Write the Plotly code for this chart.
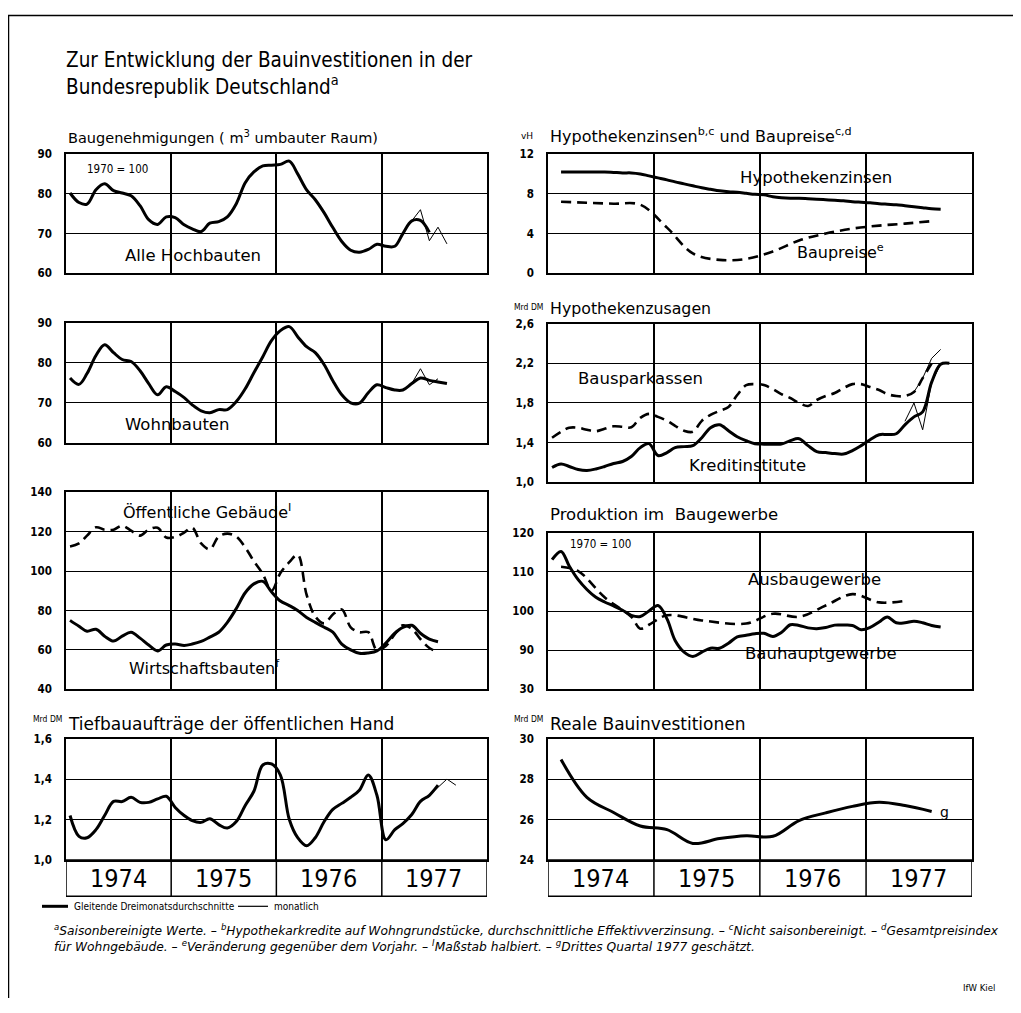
import plotly.graph_objects as go

# page is offset by the browser's 8px body margin; figure drawn at 8..(W-8)
W, H = 1021, 1013
OFF = 8
FW, FH = W - 2 * OFF, H - 2 * OFF
FONT_C = "DejaVu Sans Condensed, Liberation Sans Narrow, DejaVu Sans, sans-serif"
FONT = "DejaVu Sans, Liberation Sans, Arial, sans-serif"

# ---------------- data (month index 0 = Jan 1974) ----------------
# Baugenehmigungen – Alle Hochbauten (1970 = 100), 3-month moving average
hoch_start = 0
hoch_vals = [80.2, 77.8, 77.4, 81.0, 82.5, 80.8, 80.2, 79.5, 77.0, 73.5, 72.3, 74.2,
             74.0, 72.2, 71.2, 70.5, 72.6, 73.0, 74.2, 77.5, 82.8, 85.5, 87.0, 87.2,
             87.4, 88.2, 85.0, 81.0, 78.5, 75.2, 71.5, 68.0, 65.8, 65.3, 66.0, 67.3,
             66.8, 66.8, 70.0, 73.2, 73.3, 70.3]
hoch_m_months = [39, 40, 41, 42, 43]
hoch_m_vals = [73.2, 76.0, 68.2, 71.6, 67.4]

# Wohnbauten
wohn_start = 0
wohn_vals = [76.2, 74.6, 77.3, 81.8, 84.5, 82.5, 80.8, 80.3, 78.0, 74.8, 72.0, 74.0,
             72.8, 71.3, 69.5, 68.0, 67.5, 68.3, 68.3, 70.3, 73.5, 77.5, 81.5, 85.5,
             88.0, 89.0, 86.5, 84.0, 82.5, 79.5, 75.5, 72.0, 70.0, 69.9, 72.5, 74.5,
             73.8, 73.2, 73.2, 74.8, 76.2, 75.6, 75.2, 74.8]
wohn_m_months = [39, 40, 41, 42]
wohn_m_vals = [74.8, 78.5, 74.5, 76.0]

# Öffentliche Gebäude (scale halved) and Wirtschaftsbauten
oeff_start = 0
oeff_vals = [112.5, 114.0, 118.0, 122.2, 121.0, 121.0, 123.0, 120.5, 118.0, 121.0, 122.0, 117.0,
             117.3, 119.5, 122.0, 114.0, 111.0, 117.5, 119.0, 117.5, 112.0, 105.0, 98.5, 90.0,
             99.0, 104.5, 108.3, 88.0, 77.0, 73.5, 78.0, 80.5, 71.5, 69.0, 69.0, 60.0,
             62.0, 68.0, 72.5, 70.8, 65.5, 61.0, 59.0]
wirt_start = 0
wirt_vals = [75.0, 72.0, 69.5, 70.5, 67.0, 64.5, 67.0, 69.0, 66.0, 62.5, 59.5, 62.5,
             63.0, 62.3, 63.0, 64.3, 66.5, 69.0, 74.0, 81.0, 89.0, 93.5, 94.8, 89.5,
             84.8, 82.5, 80.0, 76.5, 74.0, 71.5, 69.0, 63.0, 60.0, 58.3, 58.5, 59.5,
             63.5, 68.5, 71.5, 72.5, 68.5, 65.5, 64.2]

# Tiefbauaufträge der öffentlichen Hand (Mrd DM)
tief_start = 0
tief_vals = [1.22, 1.117, 1.11, 1.15, 1.22, 1.29, 1.289, 1.31, 1.285, 1.285, 1.302, 1.315,
             1.26, 1.22, 1.195, 1.186, 1.204, 1.175, 1.158, 1.19, 1.27, 1.34, 1.47, 1.475,
             1.42, 1.20, 1.11, 1.07, 1.11, 1.19, 1.25, 1.28, 1.31, 1.345, 1.42, 1.32,
             1.10, 1.15, 1.18, 1.225, 1.29, 1.32, 1.37]
tief_m_months = [41, 42, 43, 44]
tief_m_vals = [1.32, 1.36, 1.40, 1.37]

# Hypothekenzinsen (vH)
zins_start = 1
zins_vals = [10.2, 10.2, 10.2, 10.2, 10.2, 10.2, 10.15, 10.1, 10.1, 10.0, 9.8,
             9.6, 9.4, 9.2, 9.0, 8.8, 8.6, 8.45, 8.3, 8.2, 8.15, 8.05, 7.95,
             7.9, 7.7, 7.6, 7.55, 7.55, 7.5, 7.45, 7.4, 7.35, 7.3, 7.2, 7.15,
             7.1, 7.0, 6.95, 6.9, 6.8, 6.7, 6.6, 6.5, 6.45]
# Baupreise (Veränderung gegenüber Vorjahr, vH), quarterly
preis_months = [1, 4, 7, 10, 13, 16, 19, 22, 25, 28, 31, 34, 37, 40, 43]
preis_vals = [7.2, 7.1, 7.0, 6.9, 4.6, 2.0, 1.35, 1.45, 2.2, 3.3, 4.0, 4.5, 4.8, 5.0, 5.25]

# Hypothekenzusagen (Mrd DM)
bspk_start = 0
bspk_vals = [1.45, 1.51, 1.55, 1.55, 1.53, 1.515, 1.54, 1.565, 1.56, 1.555, 1.65, 1.69,
             1.66, 1.62, 1.57, 1.52, 1.51, 1.62, 1.68, 1.72, 1.76, 1.88, 1.98, 1.99,
             1.98, 1.94, 1.89, 1.85, 1.80, 1.77, 1.83, 1.87, 1.90, 1.95, 1.99, 1.99,
             1.96, 1.93, 1.89, 1.87, 1.87, 1.91, 2.05, 2.20]
bspk_m_months = [41, 42, 43, 44]
bspk_m_vals = [1.91, 2.05, 2.25, 2.34]
kred_start = 0
kred_vals = [1.15, 1.185, 1.16, 1.13, 1.12, 1.135, 1.16, 1.19, 1.21, 1.26, 1.35, 1.39,
             1.27, 1.30, 1.35, 1.36, 1.37, 1.45, 1.55, 1.58, 1.52, 1.46, 1.42, 1.39,
             1.385, 1.385, 1.385, 1.42, 1.44, 1.37, 1.31, 1.30, 1.29, 1.285, 1.32, 1.37,
             1.43, 1.48, 1.483, 1.49, 1.58, 1.66, 1.71, 2.01, 2.19, 2.20]
kred_m_months = [40, 41, 42, 43, 44]
kred_m_vals = [1.615, 1.80, 1.53, 2.01, 2.19]

# Produktion im Baugewerbe (1970 = 100)
haupt_start = 0
haupt_vals = [113.1, 115.2, 111.5, 108.0, 105.5, 103.5, 102.3, 101.3, 100.2, 98.9, 98.6, 100.0,
              101.4, 98.0, 92.5, 89.5, 88.4, 89.5, 90.5, 90.5, 91.8, 93.4, 93.8, 94.2,
              94.3, 93.5, 94.5, 96.5, 96.3, 95.7, 95.5, 95.8, 96.4, 96.4, 96.3, 95.2,
              95.8, 97.2, 98.5, 97.0, 97.0, 97.4, 97.0, 96.3, 95.9]
ausb_months = [1, 3, 6, 9, 10, 11, 13, 17, 22, 25, 28, 31, 34, 37, 40]
ausb_vals = [111.3, 110.2, 103.5, 98.5, 95.5, 96.5, 98.9, 97.6, 96.8, 99.3, 98.5, 101.4,
             104.3, 102.2, 102.6]

# Reale Bauinvestitionen (Mrd DM), quarterly
real_months = [1, 4, 7, 10, 13, 16, 19, 22, 25, 28, 31, 34, 37, 40, 43]
real_vals = [28.97, 27.1, 26.35, 25.68, 25.5, 24.82, 25.06, 25.2, 25.17, 25.95, 26.33,
             26.65, 26.85, 26.69, 26.4]

years = ["1974", "1975", "1976", "1977"]

# ---------------- helpers ----------------
def mdate(m):
    return f"{1974 + m // 12}-{m % 12 + 1:02d}-15"


def dates_from(start, n):
    return [mdate(start + i) for i in range(n)]


def px(x):
    return (x - OFF) / FW


def py(y):
    return 1 - (y - OFF) / FH


fig = go.Figure()

THICK = dict(color="black", width=3)
DASH = dict(color="black", width=2.6, dash="10px,6px")
THIN = dict(color="black", width=1)


def add(ax, xs, ys, line, shape="linear"):
    fig.add_trace(go.Scatter(x=xs, y=ys, mode="lines", line=dict(line, shape=shape),
                             xaxis="x" + ("" if ax == 1 else str(ax)),
                             yaxis="y" + ("" if ax == 1 else str(ax)),
                             showlegend=False, hoverinfo="skip"))


add(1, dates_from(hoch_start, len(hoch_vals)), hoch_vals, THICK, "spline")
add(1, [mdate(m) for m in hoch_m_months], hoch_m_vals, THIN)
add(2, dates_from(zins_start, len(zins_vals)), zins_vals, THICK, "spline")
add(2, [mdate(m) for m in preis_months], preis_vals, DASH, "spline")
add(3, dates_from(wohn_start, len(wohn_vals)), wohn_vals, THICK, "spline")
add(3, [mdate(m) for m in wohn_m_months], wohn_m_vals, THIN)
add(4, dates_from(bspk_start, len(bspk_vals)), bspk_vals, DASH, "spline")
add(4, [mdate(m) for m in bspk_m_months], bspk_m_vals, THIN)
add(4, dates_from(kred_start, len(kred_vals)), kred_vals, THICK, "spline")
add(4, [mdate(m) for m in kred_m_months], kred_m_vals, THIN)
add(5, dates_from(oeff_start, len(oeff_vals)), oeff_vals, DASH, "spline")
add(5, dates_from(wirt_start, len(wirt_vals)), wirt_vals, THICK, "spline")
add(6, dates_from(haupt_start, len(haupt_vals)), haupt_vals, THICK, "spline")
add(6, [mdate(m) for m in ausb_months], ausb_vals, DASH, "spline")
add(7, dates_from(tief_start, len(tief_vals)), tief_vals, THICK, "spline")
add(7, [mdate(m) for m in tief_m_months], tief_m_vals, THIN)
add(8, [mdate(m) for m in real_months], real_vals, THICK, "spline")

# ---------------- axes ----------------
LEFT = [66, 487]
RIGHT = [548, 972]
boxes = {
    1: (LEFT, (149, 270)),
    2: (RIGHT, (149, 270)),
    3: (LEFT, (320, 442)),
    4: (RIGHT, (321, 482)),
    5: (LEFT, (492, 692)),
    6: (RIGHT, (533, 692)),
    7: (LEFT, (742, 865)),
    8: (RIGHT, (742, 865)),
}
yspec = {
    1: ([60, 90], [60, 70, 80, 90], ["60", "70", "80", "90"]),
    2: ([0, 12], [0, 4, 8, 12], ["0", "4", "8", "12"]),
    3: ([60, 90], [60, 70, 80, 90], ["60", "70", "80", "90"]),
    4: ([1.0, 2.6], [1.0, 1.4, 1.8, 2.2, 2.6], ["1,0", "1,4", "1,8", "2,2", "2,6"]),
    5: ([40, 140], [40, 60, 80, 100, 120, 140], ["40", "60", "80", "100", "120", "140"]),
    6: ([80, 120], [80, 90, 100, 110, 120], ["30", "90", "100", "110", "120"]),
    7: ([1.0, 1.6], [1.0, 1.2, 1.4, 1.6], ["1,0", "1,2", "1,4", "1,6"]),
    8: ([24, 30], [24, 26, 28, 30], ["24", "26", "28", "30"]),
}

layout = dict(width=FW, height=FH, margin=dict(l=0, r=0, t=0, b=0), autosize=False,
              paper_bgcolor="white", plot_bgcolor="white",
              font=dict(family=FONT, color="black"))
for i in range(1, 9):
    (x0, x1), (y0, y1) = boxes[i]
    sfx = "" if i == 1 else str(i)
    rng, tv, tt = yspec[i]
    layout["xaxis" + sfx] = dict(
        domain=[px(x0), px(x1)], anchor="y" + sfx, type="date",
        range=["1974-01-01", "1978-01-01"], showticklabels=False,
        tick0="1974-01-01", dtick="M12", showgrid=True, gridcolor="black", gridwidth=1.6,
        showline=True, mirror=True, linecolor="black", linewidth=1.5, ticks="",
        zeroline=False, fixedrange=True)
    layout["yaxis" + sfx] = dict(
        domain=[py(y1), py(y0)], anchor="x" + sfx, range=rng, tickvals=tv, ticktext=tt,
        showgrid=True, gridcolor="black", gridwidth=1, showline=True, mirror=True,
        linecolor="black", linewidth=1.5, ticks="", zeroline=False,
        ticklabelstandoff=10,
        tickfont=dict(size=11.5, family=FONT_C, color="black", weight="bold"),
        fixedrange=True)
fig.update_layout(**layout)

shapes = []
annotations = []

# year cells below bottom panels
for ax in (7, 8):
    sfx = str(ax)
    shapes.append(dict(type="rect", xref="x" + sfx, yref="y" + sfx + " domain",
                       x0="1974-01-01", x1="1978-01-01", y0=-0.30, y1=0,
                       line=dict(color="black", width=1.5)))
    for k, yr in enumerate(years):
        if k > 0:
            shapes.append(dict(type="line", xref="x" + sfx, yref="y" + sfx + " domain",
                               x0=f"{1974 + k}-01-01", x1=f"{1974 + k}-01-01", y0=-0.30, y1=0,
                               line=dict(color="black", width=1.5)))
        annotations.append(dict(text=yr, xref="x" + sfx, yref="y" + sfx + " domain",
                                x=f"{1974 + k}-07-01", y=-0.15, xanchor="center",
                                yanchor="middle", showarrow=False,
                                font=dict(size=25, family=FONT_C)))

# frame of the page
shapes.append(dict(type="line", xref="paper", yref="paper", x0=px(8), x1=1,
                   y0=py(8.5), y1=py(8.5), line=dict(color="black", width=1.5)))
shapes.append(dict(type="line", xref="paper", yref="paper", x0=px(8.5), x1=px(8.5),
                   y0=py(8), y1=0, line=dict(color="black", width=1.5)))

# legend samples
shapes.append(dict(type="line", xref="paper", yref="paper", x0=px(42), x1=px(68),
                   y0=py(912), y1=py(912), line=dict(color="black", width=3)))
shapes.append(dict(type="line", xref="paper", yref="paper", x0=px(238), x1=px(268),
                   y0=py(912), y1=py(912), line=dict(color="black", width=1.2)))


def text(t, x, y, size, xanchor="left", style="normal", family=FONT, weight="normal"):
    annotations.append(dict(text=t, xref="paper", yref="paper", x=px(x), y=py(y),
                            xanchor=xanchor, yanchor="middle", showarrow=False, align="left",
                            font=dict(size=size, family=family, style=style, weight=weight)))


text("Zur Entwicklung der Bauinvestitionen in der", 64, 54, 20.5, family=FONT_C)
text("Bundesrepublik Deutschland<sup>a</sup>", 64, 80, 20.5, family=FONT_C)

text("Baugenehmigungen ( m<sup>3</sup> umbauter Raum)", 66, 132, 14.5)
text("vH", 535, 131, 9, "right")
text("Hypothekenzinsen<sup>b,c</sup> und Baupreise<sup>c,d</sup>", 548, 130, 16)
text("Mrd DM", 545, 304, 8.5, "right", family=FONT_C)
text("Hypothekenzusagen", 548, 306, 15.8)
text("Produktion im  Baugewerbe", 548, 515, 16.5)
text("Mrd DM", 64, 722, 8.5, "right", family=FONT_C)
text("Tiefbauaufträge der öffentlichen Hand", 66, 727, 17)
text("Mrd DM", 545, 722, 8.5, "right", family=FONT_C)
text("Reale Bauinvestitionen", 548, 727, 17)

text("1970 = 100", 85, 164, 11.5, family=FONT_C)
text("Alle Hochbauten", 193, 252, 16.5, "center")
text("Wohnbauten", 177, 423, 16.5, "center")
text("Öffentliche Gebäude<sup>I</sup>", 207, 512, 16, "center")
text("Wirtschaftsbauten<sup>f</sup>", 204, 670, 16, "center")
text("Hypothekenzinsen", 816, 173, 16.5, "center")
text("Baupreise<sup>e</sup>", 840, 248, 16, "center")
text("Bausparkassen", 640, 377, 16.5, "center")
text("Kreditinstitute", 747, 465, 16.5, "center")
text("1970 = 100", 568, 545, 11.5, family=FONT_C)
text("Ausbaugewerbe", 814, 581, 16.5, "center")
text("Bauhauptgewerbe", 821, 656, 16.5, "center")
text("g", 938, 816, 14)

text("Gleitende Dreimonatsdurchschnitte", 72, 912, 10, family=FONT_C)
text("monatlich", 272, 912, 10, family=FONT_C)
text("<sup>a</sup>Saisonbereinigte Werte. – <sup>b</sup>Hypothekarkredite auf Wohngrundstücke, "
     "durchschnittliche Effektivverzinsung. – <sup>c</sup>Nicht saisonbereinigt. – "
     "<sup>d</sup>Gesamtpreisindex<br>"
     "für Wohngebäude. – <sup>e</sup>Veränderung gegenüber dem Vorjahr. – "
     "<sup>I</sup>Maßstab halbiert. – <sup>g</sup>Drittes Quartal 1977 geschätzt.",
     52, 944, 12.25, style="italic")
text("IfW Kiel", 997, 994, 9.5, "right", family=FONT_C)

fig.update_layout(shapes=shapes, annotations=annotations)
fig.write_html("out.html")
